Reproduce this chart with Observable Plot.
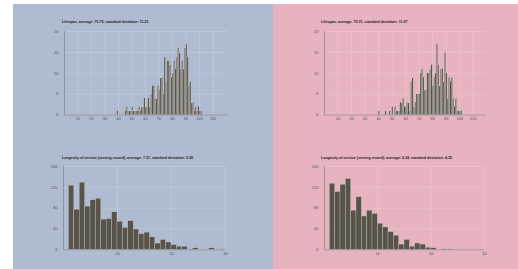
<!DOCTYPE html>
<html><head><meta charset="utf-8">
<script src="https://cdn.jsdelivr.net/npm/d3@7"></script>
<script src="https://cdn.jsdelivr.net/npm/@observablehq/plot@0.6"></script>
<style>
body{margin:0;background:#fff;width:518px;height:269px;overflow:hidden;position:relative;font-family:"Liberation Sans",Arial,sans-serif}
.panel{position:absolute;top:4px;height:265px}
.chart{position:absolute}
.title{position:absolute;font-size:3.6px;font-weight:bold;color:#222;white-space:nowrap;line-height:1}
</style></head><body>
<div class="panel" style="left:13px;width:260px;background:#aebbd0"></div>
<div class="panel" style="left:273px;width:245px;background:#e7b3be"></div>
<script>
// ---- data ----
const lifeAgesA   = [39,45,46,47,48,49,50,51,52,53,54,55,56,57,58,59,60,61,62,63,64,65,66,67,68,69,70,71,72,73,74,75,76,77,78,79,80,81,82,83,84,85,86,87,88,89,90,91,92,93,94,95,96,97,98,99,100,101];
const lifeCountsA = [1,1,2,1,1,1,2,1,1,1,1,2,1,2,2,4,2,2,4,2,5,7,7,4,4,7,6,9,9,5,14,8,13,13,12,9,10,13,11,14,16,15,11,13,11,16,17,14,7,8,3,3,1,2,1,2,1,1];
const lifeAgesB   = [40,45,48,50,52,53,54,55,56,57,58,59,60,61,62,63,64,65,66,67,68,69,70,71,72,73,74,75,76,77,78,79,80,81,82,83,84,85,86,87,88,89,90,91,92,93,94,95,96,97,98,99,100,101];
const lifeCountsB = [1,1,1,2,2,1,1,1,3,3,4,2,2,3,3,1,8,9,2,3,5,5,5,10,11,9,6,6,10,10,11,12,7,9,10,17,12,7,11,11,8,15,10,4,9,8,9,4,2,4,1,1,1,1];
const serviceYears   = [1,2,3,4,5,6,7,8,9,10,11,12,13,14,15,16,17,18,19,20,21,22,23,24,25,26,27,28,29];
const serviceCountsA = [123,77,129,83,95,98,58,59,72,54,42,55,39,30,33,24,12,19,14,9,6,6,0,3,0,0,3,0,1];
const serviceCountsB = [127,111,125,136,75,101,64,75,69,50,43,34,27,10,19,6,12,10,4,3,0,1,1,0,0,0,0,0,0];
const lifeXTicks = [10,20,30,40,50,60,70,80,90,100,110];
const lifeYTicks = [0,5,10,15,20];
const servXTicks = [10,20,30];
const servYTicks = [0,40,80,120,160];
const titles = [
  "Lifespan, average: 75.79, standard deviation: 11.21",
  "Lifespan, average: 79.31, standard deviation: 11.07",
  "Longevity of service (serving record), average: 7.37, standard deviation: 5.38",
  "Longevity of service (serving record), average: 6.24, standard deviation: 4.35"
];

const ML = 20, MT = 4, MR = 6, MB = 10;
function chart(cfg) {
  const data = cfg.keys.map((k, i) => ({a: k, b: k + 1, n: cfg.counts[i]}));
  const w = cfg.x1 - cfg.x0 + ML + MR, h = cfg.y1 - cfg.y0 + MT + MB;
  const fmt = d => String(d);
  const p = Plot.plot({
    width: w, height: h, marginLeft: ML, marginTop: MT, marginRight: MR, marginBottom: MB,
    style: {background: "transparent", fontSize: "4px", fontFamily: "'Liberation Sans', Arial, sans-serif", color: "#555", overflow: "visible"},
    x: {domain: cfg.xDomain},
    y: {domain: cfg.yDomain},
    marks: [
      Plot.gridX(cfg.xTicks, {stroke: "#fff", strokeOpacity: 0.35, strokeWidth: 0.5}),
      Plot.gridY(cfg.yTicks, {stroke: "#fff", strokeOpacity: 0.35, strokeWidth: 0.5}),
      Plot.axisX(cfg.xTicks, {tickSize: 0, tickPadding: 2.5, fontSize: 4, fill: "#555", label: null, tickFormat: fmt}),
      Plot.axisY(cfg.yTicks, {tickSize: 0, tickPadding: 6, fontSize: 4, fill: "#555", label: null, tickFormat: fmt}),
      Plot.rectY(data, {x1: "a", x2: "b", y: "n", fill: "#58544a", stroke: "#d8d8d8", strokeWidth: 0.3}),
      Plot.ruleX([cfg.xDomain[0]], {stroke: "#7a7a7a", strokeWidth: 0.6}),
      Plot.ruleY([0], {stroke: "#7a7a7a", strokeWidth: 0.6})
    ]
  });
  p.classList.add("chart");
  p.style.left = (cfg.x0 - ML) + "px";
  p.style.top = (cfg.y0 - MT) + "px";
  document.body.appendChild(p);
  const t = document.createElement("div");
  t.className = "title";
  t.textContent = cfg.title;
  t.style.left = cfg.tx + "px";
  t.style.top = cfg.ty + "px";
  document.body.appendChild(t);
}

chart({keys: lifeAgesA, counts: lifeCountsA, x0: 63.5, x1: 227, y0: 30.7, y1: 114.3, xDomain: [0, 121], yDomain: [0, 20], xTicks: lifeXTicks, yTicks: lifeYTicks, title: titles[0], tx: 62, ty: 20.5});
chart({keys: lifeAgesB, counts: lifeCountsB, x0: 323.7, x1: 486, y0: 30.7, y1: 114.3, xDomain: [0, 120], yDomain: [0, 20], xTicks: lifeXTicks, yTicks: lifeYTicks, title: titles[1], tx: 321, ty: 20.5});
chart({keys: serviceYears, counts: serviceCountsA, x0: 63, x1: 225, y0: 166, y1: 249.3, xDomain: [0, 30], yDomain: [0, 160], xTicks: servXTicks, yTicks: servYTicks, title: titles[2], tx: 62, ty: 157});
chart({keys: serviceYears, counts: serviceCountsB, x0: 324, x1: 484, y0: 166, y1: 249.3, xDomain: [0, 30], yDomain: [0, 160], xTicks: servXTicks, yTicks: servYTicks, title: titles[3], tx: 321, ty: 157});
</script>
</body></html>
